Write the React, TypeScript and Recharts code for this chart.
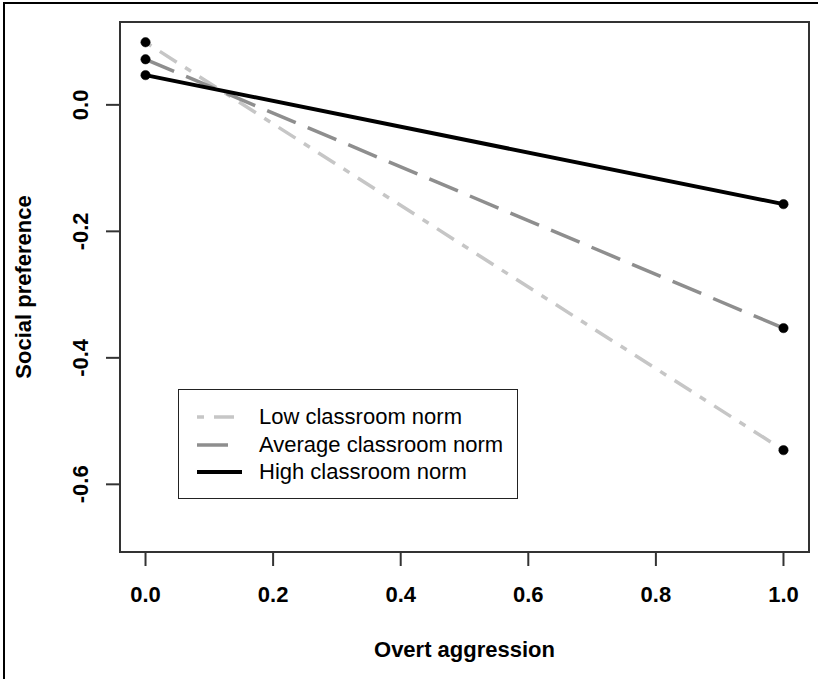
import {
  LineChart,
  Line,
  XAxis,
  YAxis,
  ReferenceArea,
  Label,
} from 'recharts'

const aggression = [0, 1]
const lowNorm = [0.099, -0.546]
const avgNorm = [0.072, -0.353]
const highNorm = [0.047, -0.157]

const xTicks = [0, 0.2, 0.4, 0.6, 0.8, 1.0]
const yTicks = [-0.6, -0.4, -0.2, 0.0]

const seriesNames = ['Low classroom norm', 'Average classroom norm', 'High classroom norm']

const data = aggression.map((x, i) => ({
  x,
  low: lowNorm[i],
  avg: avgNorm[i],
  high: highNorm[i],
}))

const FONT = '"Liberation Sans", Arial, sans-serif'

const XDOMAIN: [number, number] = [-0.04, 1.04]
const YDOMAIN: [number, number] = [-0.707, 0.131]

const styles = [
  { key: 'low', color: '#c6c6c6', dash: '7 10 20 10', width: 3.5, sample: 45 },
  { key: 'avg', color: '#8e8e8e', dash: '31 13', width: 3.5, sample: 33 },
  { key: 'high', color: '#000000', dash: undefined, width: 4, sample: 45 },
]

function YTick(props: any) {
  const { x, y, payload } = props
  return (
    <text
      x={x}
      y={y}
      transform={`rotate(-90, ${x}, ${y})`}
      textAnchor="middle"
      fontFamily={FONT}
      fontSize={22}
      fontWeight="bold"
      fill="#000"
    >
      {payload.value.toFixed(1)}
    </text>
  )
}

function ChartLegend() {
  return (
    <div
      style={{
        position: 'absolute',
        left: 178,
        top: 389,
        width: 340,
        height: 110,
        boxSizing: 'border-box',
        border: '1.5px solid #222',
        background: '#fff',
        fontFamily: FONT,
        fontSize: 22,
        color: '#000',
      }}
    >
      {styles.map((s, i) => (
        <div
          key={s.key}
          style={{
            position: 'absolute',
            left: 0,
            top: 14 + i * 27.7,
            height: 26,
            display: 'flex',
            alignItems: 'center',
          }}
        >
          <svg width={80} height={26}>
            <line
              x1={18}
              x2={18 + s.sample}
              y1={13}
              y2={13}
              stroke={s.color}
              strokeWidth={s.width}
              strokeDasharray={s.dash}
            />
          </svg>
          <span style={{ lineHeight: '26px' }}>{seriesNames[i]}</span>
        </div>
      ))}
    </div>
  )
}

export default function App() {
  return (
    <div style={{ position: 'absolute', left: 0, top: 0, width: 818, height: 679, background: '#fff' }}>
      <div style={{ position: 'absolute', left: 3, top: 2, width: 815, height: 2, background: '#000' }} />
      <div style={{ position: 'absolute', left: 3, top: 2, width: 2, height: 677, background: '#000' }} />
      <LineChart
        width={818}
        height={679}
        data={data}
        margin={{ top: 22, right: 9, left: 20, bottom: 17 }}
      >
        <XAxis
          type="number"
          dataKey="x"
          domain={XDOMAIN}
          allowDataOverflow
          ticks={xTicks}
          interval={0}
          height={110}
          axisLine={false}
          tickLine={{ stroke: '#333', strokeWidth: 2 }}
          tickSize={14}
          tickMargin={20}
          tick={{ fill: '#000', fontSize: 22, fontWeight: 'bold', fontFamily: FONT }}
          tickFormatter={(v: number) => v.toFixed(1)}
        >
          <Label
            content={(p: any) => {
              const vb = p.viewBox
              return (
                <text
                  x={vb.x + vb.width / 2}
                  y={vb.y + 105}
                  textAnchor="middle"
                  fontFamily={FONT}
                  fontSize={22}
                  fontWeight="bold"
                  fill="#000"
                >
                  Overt aggression
                </text>
              )
            }}
          />
        </XAxis>
        <YAxis
          type="number"
          domain={YDOMAIN}
          allowDataOverflow
          ticks={yTicks}
          interval={0}
          width={100}
          axisLine={false}
          tickLine={{ stroke: '#333', strokeWidth: 2 }}
          tickSize={14}
          tickMargin={18}
          tick={<YTick />}
        >
          <Label
            content={(p: any) => {
              const vb = p.viewBox
              const cx = vb.x + 11
              const cy = vb.y + vb.height / 2
              return (
                <text
                  x={cx}
                  y={cy}
                  transform={`rotate(-90, ${cx}, ${cy})`}
                  textAnchor="middle"
                  fontFamily={FONT}
                  fontSize={22}
                  fontWeight="bold"
                  fill="#000"
                >
                  Social preference
                </text>
              )
            }}
          />
        </YAxis>
        <ReferenceArea
          x1={XDOMAIN[0]}
          x2={XDOMAIN[1]}
          y1={YDOMAIN[0]}
          y2={YDOMAIN[1]}
          fill="none"
          stroke="#333"
          strokeWidth={2}
          ifOverflow="visible"
        />
        {styles.map((s, i) => (
          <Line
            key={s.key}
            type="linear"
            dataKey={s.key}
            name={seriesNames[i]}
            stroke={s.color}
            strokeWidth={s.width}
            strokeDasharray={s.dash}
            dot={{ r: 4.7, fill: '#000', stroke: '#000', strokeWidth: 0.5, strokeDasharray: 'none' }}
            activeDot={false}
            isAnimationActive={false}
          />
        ))}
      </LineChart>
      <ChartLegend />
    </div>
  )
}
